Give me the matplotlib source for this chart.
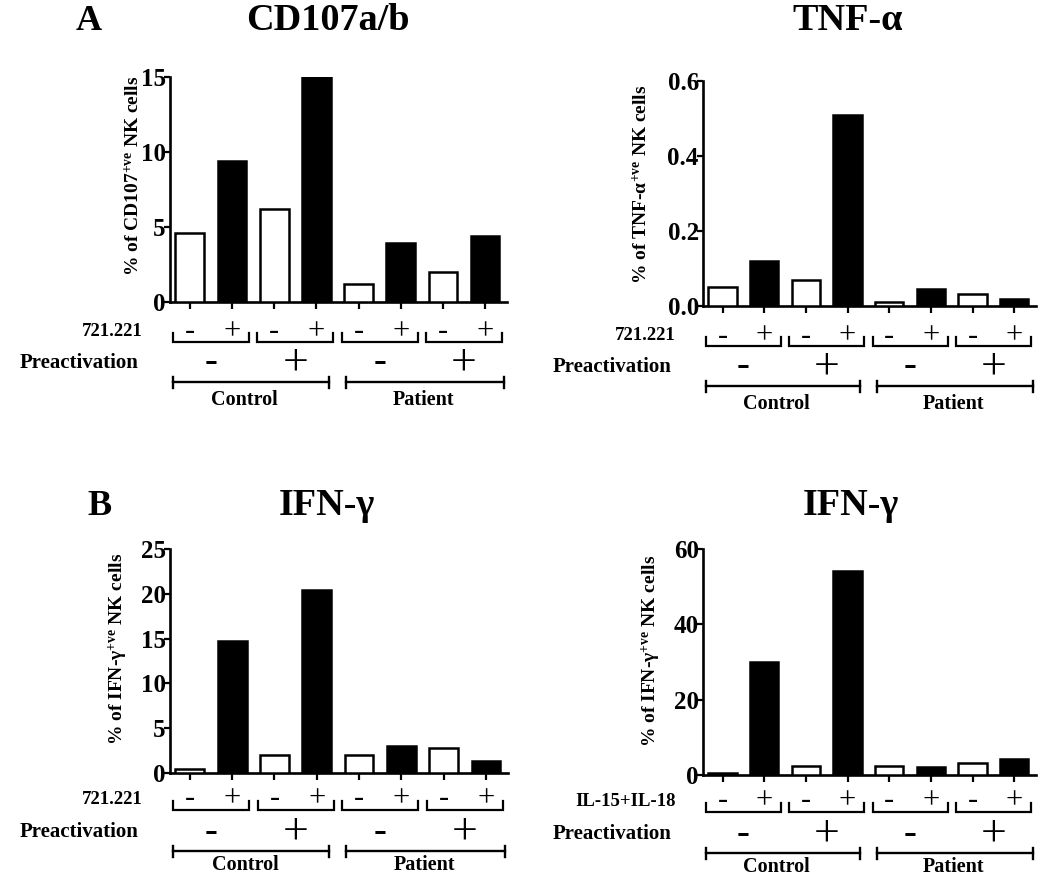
import matplotlib
matplotlib.use("Agg")
import matplotlib.pyplot as plt
from matplotlib.transforms import blended_transform_factory

plt.rcParams['font.family'] = ['Liberation Serif', 'DejaVu Serif']
plt.rcParams['font.weight'] = 'bold'
plt.rcParams['mathtext.fontset'] = 'custom'
plt.rcParams['mathtext.rm'] = 'Liberation Serif:bold'
plt.rcParams['mathtext.bf'] = 'Liberation Serif:bold'
plt.rcParams['mathtext.it'] = 'Liberation Serif:bold'

# ---- data ----
conditions = ["-", "+", "-", "+", "-", "+", "-", "+"]
preact = ["-", "+", "-", "+"]
groups = ["Control", "Patient"]

cd107_values = [4.6, 9.4, 6.2, 15.0, 1.2, 3.9, 2.0, 4.4]
tnf_values = [0.051, 0.12, 0.069, 0.51, 0.01, 0.045, 0.032, 0.019]
ifn_221_values = [0.45, 14.7, 2.0, 20.4, 2.0, 3.0, 2.8, 1.3]
ifn_il_values = [0.6, 30.0, 2.5, 54.2, 2.5, 2.0, 3.3, 4.2]

cd107_ticks = [0, 5, 10, 15]
tnf_ticks = [0.0, 0.2, 0.4, 0.6]
ifn_221_ticks = [0, 5, 10, 15, 20, 25]
ifn_il_ticks = [0, 20, 40, 60]

W, H = 1050, 877
fig = plt.figure(figsize=(W / 100, H / 100), dpi=100)


def px_axes(l, t, r, b):
    return fig.add_axes([l / W, 1 - b / H, (r - l) / W, (b - t) / H])


def panel(ax, values, ticks, ticklabels, ylabel, ylab_x, ylab_y, row1, offs):
    r1, br, pre, grp, glab = offs
    xs = list(range(len(values)))
    colors = ['white' if i % 2 == 0 else 'black' for i in xs]
    ax.bar(xs, values, width=0.68, color=colors, edgecolor='black', linewidth=1.8, zorder=3)
    ax.set_xlim(-0.47, 7.52)
    ax.set_ylim(ticks[0], ticks[-1])
    ax.set_yticks(ticks)
    ax.set_yticklabels(ticklabels, fontsize=18, fontweight='bold')
    ax.set_xticks(xs)
    ax.set_xticklabels([])
    for s in ['top', 'right']:
        ax.spines[s].set_visible(False)
    for s in ['left', 'bottom']:
        ax.spines[s].set_linewidth(1.9)
    ax.tick_params(axis='y', direction='out', length=4, width=1.6, pad=-1)
    ax.tick_params(axis='x', direction='out', length=5, width=1.6)
    ax.text(ylab_x, ylab_y, ylabel, rotation=90, ha='center', va='center',
            fontsize=14, fontweight='bold', transform=ax.transAxes)

    hpx = ax.get_position().height * H
    tr = blended_transform_factory(ax.transData, ax.transAxes)

    def fy(px):
        return -px / hpx

    # row 1 labels
    for i, c in enumerate(conditions):
        ax.text(i, fy(r1), c, ha='center', va='center', fontsize=22,
                fontweight='normal', transform=tr, clip_on=False)
    ax.text(-0.47 - 0.65, fy(r1), row1, ha='right', va='center', fontsize=13.5,
            transform=tr, clip_on=False)
    # brackets
    for p in range(4):
        x0, x1 = 2 * p - 0.4, 2 * p + 1 + 0.4
        ax.plot([x0, x0, x1, x1], [fy(br - 9), fy(br), fy(br), fy(br - 9)], color='black',
                lw=1.6, transform=tr, clip_on=False, solid_joinstyle='miter')
    # preactivation row
    for p, c in enumerate(preact):
        if c == "-":
            ax.text(2 * p + 0.5, fy(pre), c, ha='center', va='center', fontsize=28,
                    fontweight='bold', transform=tr, clip_on=False)
        else:
            ax.text(2 * p + 0.5, fy(pre), c, ha='center', va='center', fontsize=33,
                    fontweight='normal', transform=tr, clip_on=False)
    ax.text(-0.47 - 0.75, fy(pre), "Preactivation", ha='right', va='center', fontsize=15,
            transform=tr, clip_on=False)
    # group lines
    for (x0, x1), g, gx in zip([(-0.4, 3.3), (3.7, 7.45)], groups, [1.3, 5.55]):
        ax.plot([x0, x1], [fy(grp), fy(grp)], color='black', lw=1.7, transform=tr, clip_on=False)
        for xx in (x0, x1):
            ax.plot([xx, xx], [fy(grp - 5), fy(grp + 6)], color='black', lw=1.7,
                    transform=tr, clip_on=False)
        ax.text(gx, fy(glab), g, ha='center', va='center', fontsize=14.5,
                transform=tr, clip_on=False)


offsA = (30, 40, 61, 80, 98)
offsB = (26, 37, 59, 78, 92)

axA1 = px_axes(170, 77, 507, 302)
panel(axA1, cd107_values, cd107_ticks, [str(t) for t in cd107_ticks],
      r'% of CD107$^{+ve}$ NK cells', -0.108, 0.56, "721.221", offsA)
axA2 = px_axes(703, 81, 1036, 306)
panel(axA2, tnf_values, tnf_ticks, ["%.1f" % t for t in tnf_ticks],
      r'% of TNF-α$^{+ve}$ NK cells', -0.185, 0.54, "721.221", offsA)
axB1 = px_axes(170, 549, 508, 773)
panel(axB1, ifn_221_values, ifn_221_ticks, [str(t) for t in ifn_221_ticks],
      r'% of IFN-γ$^{+ve}$ NK cells', -0.155, 0.555, "721.221", offsB)
axB2 = px_axes(703, 549, 1036, 775)
panel(axB2, ifn_il_values, ifn_il_ticks, [str(t) for t in ifn_il_ticks],
      r'% of IFN-γ$^{+ve}$ NK cells', -0.158, 0.55, "IL-15+IL-18", offsB)

# titles and panel letters
def ftext(x, y, s, size):
    fig.text(x / W, 1 - y / H, s, ha='center', va='baseline', fontsize=size, fontweight='bold')

ftext(89, 30, "A", 26)
ftext(328, 30, "CD107a/b", 27.5)
ftext(848, 30, "TNF-α", 27.5)
ftext(100, 515, "B", 26)
ftext(327, 515, "IFN-γ", 27.5)
ftext(851, 515, "IFN-γ", 27.5)

fig.savefig("out.png", dpi=100)
